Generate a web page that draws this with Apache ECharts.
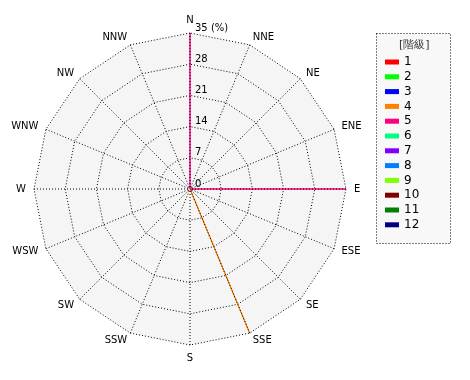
<!DOCTYPE html>
<html><head><meta charset="utf-8">
<script src="https://cdn.jsdelivr.net/npm/echarts@6/dist/echarts.min.js"></script>
<style>html,body{margin:0;padding:0;background:#fff}#c{width:470px;height:380px}</style>
</head><body><div id="c"></div>
<script>
var directions = ['N','NNE','NE','ENE','E','ESE','SE','SSE','S','SSW','SW','WSW','W','WNW','NW','NNW'];
var seriesNames = ['1','2','3','4','5','6','7','8','9','10','11','12'];
var seriesColors = ['#ff0000','#00ff00','#0000ff','#ff8000','#ff0080','#00ff80','#8000ff','#0080ff','#80ff00','#800000','#008000','#000080'];
// values per direction (compass order N..NNW), percent
var v1  = [0,0,0,0,0,0,0,0,0,0,0,0,0,0,0,0];
var v2  = [0,0,0,0,0,0,0,0,0,0,0,0,0,0,0,0];
var v3  = [0,0,0,0,0,0,0,0,0,0,0,0,0,0,0,0];
var v4  = [0,0,0,0,0,0,0,35,0,0,0,0,0,0,0,0];
var v5  = [35,0,0,0,35,0,0,0,0,0,0,0,0,0,0,0];
var v6  = [0,0,0,0,0,0,0,0,0,0,0,0,0,0,0,0];
var v7  = [0,0,0,0,0,0,0,0,0,0,0,0,0,0,0,0];
var v8  = [0,0,0,0,0,0,0,0,0,0,0,0,0,0,0,0];
var v9  = [0,0,0,0,0,0,0,0,0,0,0,0,0,0,0,0];
var v10 = [0,0,0,0,0,0,0,0,0,0,0,0,0,0,0,0];
var v11 = [0,0,0,0,0,0,0,0,0,0,0,0,0,0,0,0];
var v12 = [0,0,0,0,0,0,0,0,0,0,0,0,0,0,0,0];
var allValues = [v1,v2,v3,v4,v5,v6,v7,v8,v9,v10,v11,v12];
var radiusMax = 35;
var radiusStep = 7;
var unitLabel = '(%)';
var legendTitle = '[階級]';

// radar runs counter-clockwise, so reorder to get clockwise compass
var order = [0];
for (var i = directions.length - 1; i >= 1; i--) order.push(i);
var indicators = order.map(function(i){ return {name: directions[i], max: radiusMax, min: 0}; });

var FONT = 'DejaVu Sans';
var series = seriesNames.map(function(n, k){
  return {
    name: n, type: 'radar', symbol: 'none', z: 1,
    lineStyle: {color: seriesColors[k], width: 1},
    itemStyle: {color: seriesColors[k]},
    data: [{value: order.map(function(i){ return allValues[k][i]; }), name: n}]
  };
});

var chart = echarts.init(document.getElementById('c'));
chart.setOption({
  animation: false,
  backgroundColor: '#ffffff',
  title: {text: legendTitle, left: 394, top: 35, textStyle: {fontSize: 11, fontWeight: 'normal', color: '#333', fontFamily: FONT}},
  graphic: [{type: 'rect', left: 376, top: 33, shape: {width: 74, height: 210}, style: {fill: '#f8f8f8', stroke: '#000', lineWidth: 1, lineDash: [1,2]}, z: -1}],
  legend: {
    orient: 'vertical', left: 380, top: 51, itemWidth: 14, itemHeight: 5, itemGap: 2.8,
    icon: 'rect', data: seriesNames,
    textStyle: {fontSize: 12, color: '#000', fontFamily: FONT}
  },
  radar: {
    center: [190, 189], radius: 156, startAngle: 90, splitNumber: 5, shape: 'polygon',
    indicator: indicators,
    axisName: {color: '#000', fontSize: 10, fontFamily: FONT},
    nameGap: 8,
    splitLine: {lineStyle: {color: '#000', type: [1,2], width: 1}},
    splitArea: {show: true, areaStyle: {color: ['#f5f5f5']}},
    axisLine: {show: false},
    axisTick: {show: false}, axisLabel: {show: false}
  },
  polar: {center: [190, 189], radius: 156},
  angleAxis: {type: 'category', data: directions, startAngle: 90, clockwise: true, boundaryGap: false, z: 3,
    axisLine: {show: false}, axisTick: {show: false}, axisLabel: {show: false},
    splitLine: {show: true, lineStyle: {color: '#000', type: [1,2], width: 1}}},
  radiusAxis: {
    type: 'value', min: 0, max: radiusMax, interval: radiusStep, z: 5,
    axisLine: {show: false}, axisTick: {show: false}, splitLine: {show: false},
    axisLabel: {show: true, fontSize: 10, color: '#000', fontFamily: FONT, align: 'left', verticalAlign: 'bottom', margin: -5,
      formatter: function(v){ return v === radiusMax ? v + ' ' + unitLabel : String(v); }}
  },
  series: series
});
</script></body></html>
